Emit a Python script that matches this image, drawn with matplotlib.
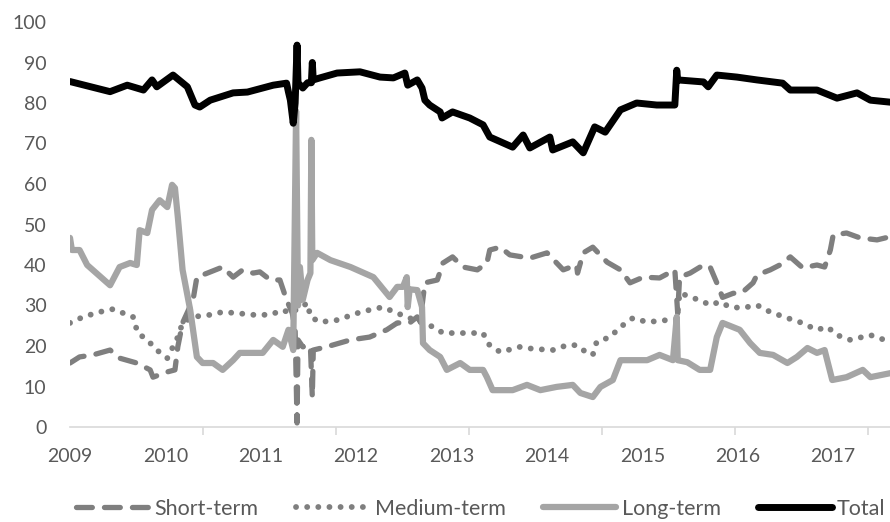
import numpy as np
import matplotlib
matplotlib.use("Agg")
import matplotlib.pyplot as plt

plt.rcParams["font.family"] = ["Lato", "DejaVu Sans"]

# data (x in fractional years)
total_x = [2009.00, 2009.42, 2009.60, 2009.77, 2009.86, 2009.91, 2010.08, 2010.23, 2010.31, 2010.36,
           2010.47, 2010.71, 2010.86, 2011.13, 2011.27, 2011.29, 2011.31, 2011.34, 2011.36, 2011.38,
           2011.39, 2011.44, 2011.49, 2011.53, 2011.54, 2011.55, 2011.62, 2011.80, 2012.04, 2012.25,
           2012.39, 2012.51, 2012.54, 2012.64, 2012.69, 2012.72, 2012.77, 2012.88, 2012.90, 2013.01,
           2013.19, 2013.33, 2013.40, 2013.64, 2013.75, 2013.82, 2014.03, 2014.06, 2014.27, 2014.38,
           2014.50, 2014.61, 2014.77, 2014.94, 2015.15, 2015.34, 2015.36, 2015.37, 2015.64, 2015.69,
           2015.78, 2015.99, 2016.20, 2016.47, 2016.55, 2016.83, 2017.04, 2017.25, 2017.39, 2017.60]
total_y = [85.3, 82.8, 84.4, 83.2, 85.7, 84.0, 86.9, 84.0, 79.5, 79.0,
           80.7, 82.5, 82.7, 84.4, 84.9, 82.7, 80.7, 75.0, 80.0, 94.3,
           85.0, 83.7, 85.0, 85.0, 90.0, 85.7, 86.2, 87.4, 87.7, 86.4,
           86.2, 87.4, 84.4, 85.7, 83.7, 80.7, 79.5, 77.8, 76.3, 77.8,
           76.3, 74.6, 71.6, 69.1, 72.1, 68.9, 71.6, 68.4, 70.4, 67.7,
           74.1, 72.8, 78.3, 80.0, 79.5, 79.5, 88.1, 85.7, 85.2, 84.0,
           86.9, 86.4, 85.7, 84.9, 83.2, 83.2, 81.2, 82.5, 80.7, 80.2]

long_x = [2009.00, 2009.02, 2009.10, 2009.18, 2009.42, 2009.52, 2009.63, 2009.70, 2009.73, 2009.81,
          2009.86, 2009.94, 2010.02, 2010.07, 2010.10, 2010.13, 2010.18, 2010.26, 2010.33, 2010.39,
          2010.50, 2010.60, 2010.71, 2010.78, 2010.92, 2011.02, 2011.13, 2011.23, 2011.29, 2011.34,
          2011.37, 2011.39, 2011.41, 2011.44, 2011.49, 2011.52, 2011.53, 2011.54, 2011.59, 2011.73,
          2011.94, 2012.18, 2012.35, 2012.43, 2012.49, 2012.53, 2012.54, 2012.56, 2012.64, 2012.69,
          2012.70, 2012.77, 2012.88, 2012.95, 2013.09, 2013.19, 2013.33, 2013.37, 2013.43, 2013.64,
          2013.79, 2013.93, 2014.10, 2014.27, 2014.35, 2014.48, 2014.56, 2014.69, 2014.77, 2015.05,
          2015.18, 2015.32, 2015.36, 2015.37, 2015.47, 2015.60, 2015.71, 2015.78, 2015.84, 2016.02,
          2016.13, 2016.23, 2016.37, 2016.52, 2016.62, 2016.73, 2016.83, 2016.91, 2016.99, 2017.14,
          2017.31, 2017.39, 2017.60]
long_y = [46.7, 43.7, 43.7, 40.0, 35.0, 39.5, 40.5, 40.0, 48.6, 47.9,
          53.6, 56.0, 54.3, 59.8, 59.0, 51.9, 38.8, 28.9, 17.3, 15.8,
          15.8, 14.1, 16.5, 18.3, 18.3, 18.3, 21.5, 19.8, 24.0, 19.0,
          78.0, 30.0, 39.5, 31.4, 36.3, 38.0, 70.9, 41.2, 43.0, 41.2,
          39.5, 37.0, 32.1, 34.6, 34.6, 37.0, 29.6, 34.0, 33.8, 29.6,
          20.7, 19.0, 17.3, 14.1, 15.8, 14.1, 14.1, 12.3, 9.1, 9.1,
          10.4, 9.1, 9.9, 10.4, 8.4, 7.4, 9.9, 11.6, 16.5, 16.5,
          17.8, 16.5, 27.2, 16.5, 16.0, 14.1, 14.1, 22.2, 25.7, 24.0,
          20.7, 18.3, 17.8, 15.8, 17.3, 19.5, 18.3, 19.0, 11.6, 12.3,
          14.1, 12.3, 13.3]

short_x = [2009.00, 2009.10, 2009.24, 2009.42, 2009.52, 2009.70, 2009.84, 2009.87, 2010.02, 2010.10,
           2010.13, 2010.18, 2010.29, 2010.33, 2010.44, 2010.60, 2010.71, 2010.81, 2010.92, 2010.99,
           2011.10, 2011.20, 2011.27, 2011.33, 2011.36, 2011.38, 2011.39, 2011.44, 2011.52, 2011.54,
           2011.55, 2011.69, 2011.94, 2012.14, 2012.32, 2012.43, 2012.56, 2012.64, 2012.67, 2012.72,
           2012.85, 2012.91, 2013.01, 2013.12, 2013.27, 2013.37, 2013.40, 2013.51, 2013.61, 2013.82,
           2014.00, 2014.17, 2014.31, 2014.32, 2014.38, 2014.48, 2014.63, 2014.77, 2014.87, 2015.01,
           2015.18, 2015.34, 2015.37, 2015.39, 2015.50, 2015.64, 2015.71, 2015.78, 2015.84, 2015.95,
           2016.05, 2016.16, 2016.20, 2016.34, 2016.44, 2016.55, 2016.68, 2016.83, 2016.91, 2016.97,
           2017.00, 2017.14, 2017.28, 2017.46, 2017.60]
short_y = [15.8, 17.3, 17.8, 19.0, 17.0, 15.8, 14.1, 12.3, 13.6, 14.1,
           19.8, 25.7, 31.4, 37.0, 38.0, 39.5, 37.0, 38.8, 38.0, 38.3,
           36.3, 36.3, 31.4, 28.1, 24.0, 1.0, 21.5, 19.8, 20.0, 7.4,
           19.0, 19.8, 21.5, 22.2, 24.0, 25.7, 25.7, 27.2, 26.0, 35.6,
           36.3, 40.5, 42.0, 39.5, 38.8, 40.5, 43.7, 44.4, 42.5, 41.7,
           43.0, 38.8, 40.0, 38.0, 43.0, 44.4, 40.7, 38.8, 35.6, 37.0,
           36.8, 38.8, 28.1, 37.0, 38.0, 40.0, 39.5, 35.6, 32.0, 33.0,
           33.3, 35.6, 37.5, 38.8, 40.0, 42.0, 39.3, 40.0, 39.5, 43.7,
           47.4, 47.9, 46.7, 46.2, 47.0]

medium_x = [2009.00, 2009.14, 2009.31, 2009.45, 2009.56, 2009.66, 2009.71, 2009.81, 2009.91, 2010.02,
            2010.13, 2010.18, 2010.29, 2010.47, 2010.60, 2010.75, 2010.92, 2011.10, 2011.23, 2011.31,
            2011.49, 2011.52, 2011.62, 2011.80, 2012.01, 2012.14, 2012.28, 2012.43, 2012.56, 2012.67,
            2012.81, 2012.91, 2013.33, 2013.38, 2013.40, 2013.51, 2013.72, 2013.85, 2014.06, 2014.21,
            2014.31, 2014.42, 2014.48, 2014.52, 2014.66, 2014.77, 2014.90, 2015.05, 2015.26, 2015.36,
            2015.39, 2015.53, 2015.64, 2015.71, 2015.81, 2015.92, 2016.05, 2016.20, 2016.34, 2016.52,
            2016.65, 2016.83, 2016.94, 2017.04, 2017.18, 2017.39, 2017.60]
medium_y = [25.7, 27.2, 28.4, 29.1, 28.1, 27.2, 23.2, 21.5, 19.0, 17.0,
            22.2, 25.7, 27.2, 27.7, 28.4, 28.1, 27.7, 27.7, 28.9, 28.1,
            30.6, 27.2, 25.9, 26.4, 28.1, 28.9, 29.6, 28.1, 26.9, 25.9,
            24.7, 23.2, 23.2, 20.7, 20.2, 18.5, 19.8, 19.3, 19.0, 20.2,
            20.2, 18.3, 17.8, 21.0, 22.2, 24.7, 26.9, 25.9, 26.4, 26.5,
            33.1, 31.9, 30.9, 30.1, 30.9, 29.6, 29.4, 30.1, 28.4, 26.9,
            25.9, 24.0, 24.7, 22.7, 21.5, 22.7, 21.0]

year_labels = [2009, 2010, 2011, 2012, 2013, 2014, 2015, 2016, 2017]

fig = plt.figure(figsize=(8.9, 5.22), dpi=100)
ax = fig.add_axes([70 / 890, 1 - 427 / 522, 1 - 70 / 890, 405 / 522])

ax.plot(short_x, short_y, color="#7f7f7f", lw=3.8, dashes=(3.0, 2.3),
        dash_capstyle="round", solid_joinstyle="round", label="Short-term")
ax.plot(medium_x, medium_y, color="#7f7f7f", lw=4.2, dashes=(0.01, 1.9),
        dash_capstyle="round", label="Medium-term")
ax.plot(long_x, long_y, color="#a5a5a5", lw=4.5, solid_joinstyle="round",
        solid_capstyle="round", label="Long-term")
ax.plot(total_x, total_y, color="black", lw=5, solid_joinstyle="round",
        solid_capstyle="round", label="Total")

ax.set_xlim(2009, 2009 + 820 / 95.4)
ax.set_ylim(0, 100)
ax.set_yticks(np.arange(0, 101, 10))
ax.set_xticks(year_labels)
ax.set_xticks(np.arange(2009, 2017.6, 133 / 95.4), minor=True)
ax.tick_params(axis="y", length=0, pad=17, labelsize=14, labelcolor="#595959")
ax.tick_params(axis="x", which="major", length=0, pad=15, labelsize=14, labelcolor="#595959")
ax.tick_params(axis="x", which="minor", length=6, width=1.2, color="#d9d9d9")

for s in ["top", "right", "left"]:
    ax.spines[s].set_visible(False)
ax.spines["bottom"].set_color("#d9d9d9")
ax.spines["bottom"].set_linewidth(1.2)

leg = fig.legend(loc="center", bbox_to_anchor=(0.54, 1 - 509 / 522), ncol=4, frameon=False,
                 fontsize=15.5, handlelength=3.4, handletextpad=0.25, columnspacing=1.75)
for t in leg.get_texts():
    t.set_color("#595959")

fig.savefig("out.png", dpi=100)
